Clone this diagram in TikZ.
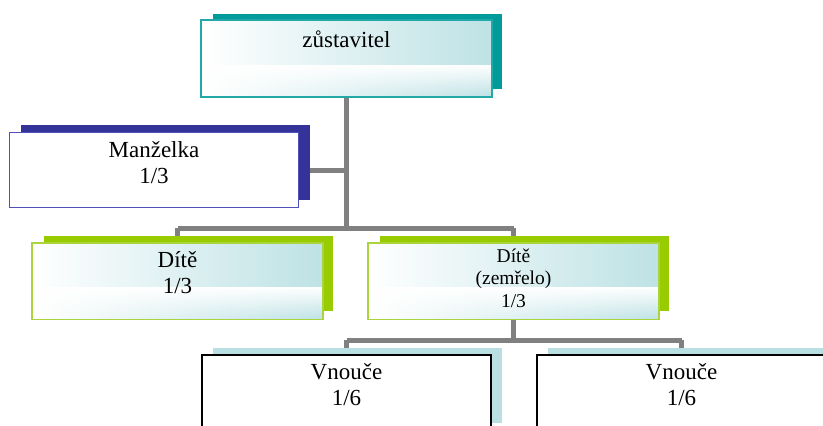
\documentclass[tikz,border=0pt]{standalone}
\usepackage{fontspec}
\setmainfont{Liberation Serif}
\usetikzlibrary{shadows,fadings}
\definecolor{tealsh}{HTML}{009C9C}
\definecolor{tealbd}{HTML}{22A8A8}
\definecolor{bluesh}{HTML}{333399}
\definecolor{bluebd}{HTML}{5050B8}
\definecolor{greensh}{HTML}{99CC00}
\definecolor{greenbd}{HTML}{AAD43C}
\definecolor{cyansh}{HTML}{B9DFE3}
\definecolor{cyanfill}{HTML}{BEE2E5}
\definecolor{conn}{HTML}{808080}
\tikzset{
  card/.style={rectangle, minimum width=289pt, minimum height=75pt, inner sep=0pt, line width=1.6pt},
  shade/.style={general shadow={shadow xshift=11pt, shadow yshift=7.5pt, fill=#1}},
  grad/.style={left color=white, right color=cyanfill},
  lbl/.style={anchor=base, align=center, inner sep=0pt, font=\fontsize{23}{25.5}\selectfont},
  slbl/.style={anchor=base, align=center, inner sep=0pt, font=\fontsize{19.5}{22.5}\selectfont},
  link/.style={draw=conn, line width=5pt}
}
\begin{document}
\begin{tikzpicture}[x=1pt,y=-1pt]
\useasboundingbox (0,0) rectangle (823,426);
\fill[white] (0,0) rectangle (823,426);
% connectors first
\coordinate (j1) at (346.5,170);
\coordinate (h1) at (346.5,228);
\coordinate (h2) at (177.5,228);
\coordinate (h3) at (513.5,228);
\coordinate (k1) at (513.5,340);
\coordinate (k2) at (346.5,340);
\coordinate (k3) at (681.5,340);
\node[card] (z) at (346.5,58.5) {};
\node[card] (m) at (154,170) {};
\node[card] (d1) at (177.5,281) {};
\node[card] (d2) at (513.5,281) {};
\node[card] (v1) at (346.5,392.5) {};
\node[card] (v2) at (681.5,392.5) {};
\draw[link] (z.south) -- (h1);
\draw[link] (m.east) -- (j1);
\draw[link] (h2) -- (h3);
\draw[link] (h2) -- (d1.north);
\draw[link] (h3) -- (d2.north);
\draw[link] (d2.south) -- (k1);
\draw[link] (k2) -- (k3);
\draw[link] (k2) -- (v1.north);
\draw[link] (k3) -- (v2.north);
% boxes
\node[card, shade=tealsh, grad] at (z) {};
\fill[white, path fading=south] (z.south west) rectangle ([yshift=32pt]z.south east);
\draw[tealbd, line width=1.6pt] (z.south west) rectangle (z.north east);
\node[card, shade=bluesh, fill=white, draw=bluebd] at (m) {};
\node[card, shade=greensh, grad] at (d1) {};
\fill[white, path fading=south] (d1.south west) rectangle ([yshift=32pt]d1.south east);
\draw[greenbd, line width=1.6pt] (d1.south west) rectangle (d1.north east);
\node[card, shade=greensh, grad] at (d2) {};
\fill[white, path fading=south] (d2.south west) rectangle ([yshift=32pt]d2.south east);
\draw[greenbd, line width=1.6pt] (d2.south west) rectangle (d2.north east);
\node[card, shade=cyansh, fill=white, draw=black] at (v1) {};
\node[card, shade=cyansh, fill=white, draw=black] at (v2) {};
% labels (base = last line)
\node[lbl] (tz) at (346.5,47) {zůstavitel};
\node[lbl] (tm) at (154,183) {Manželka\\1/3};
\node[lbl] (td1) at (177.5,293) {Dítě\\1/3};
\node[slbl] (td2) at (513.5,307) {Dítě\\(zemřelo)\\1/3};
\node[lbl] (tv1) at (346.5,405) {Vnouče\\1/6};
\node[lbl] (tv2) at (681.5,405) {Vnouče\\1/6};
\end{tikzpicture}
\end{document}
